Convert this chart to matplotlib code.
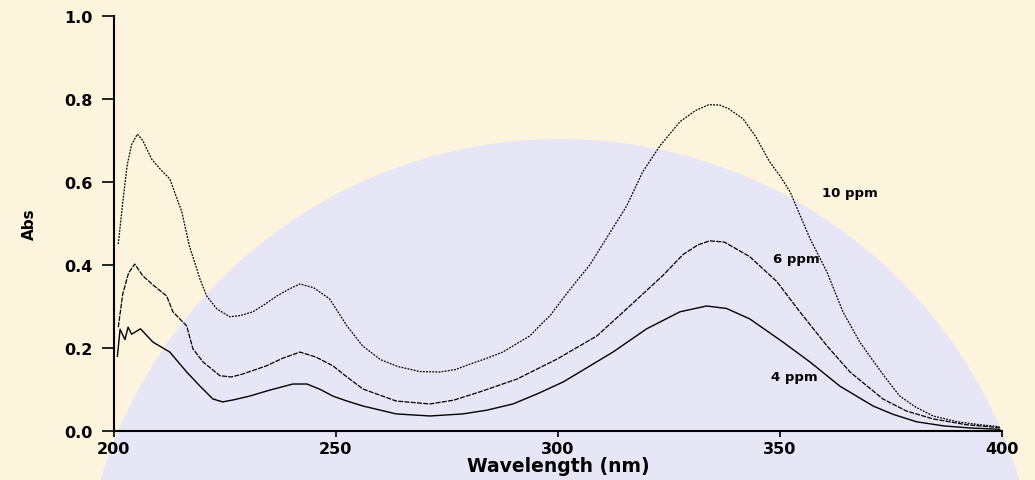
import numpy as np
import matplotlib.pyplot as plt
from matplotlib.patches import Circle

# 10 ppm spectrum
wl_10 = [201, 202, 203, 204, 205.3, 206.5, 208.5, 210.5, 212.6, 215.3, 217, 219.4, 220.9,
         223.2, 226.1, 228.5, 231.3, 234, 236.7, 239.5, 241.9, 245, 248.6, 252.5, 256, 260,
         264, 269, 273.4, 277, 280.2, 284, 287.6, 291, 293.7, 296.7, 298.2, 300.5, 303.4,
         307.2, 311, 315.5, 319.1, 323, 327.5, 331, 334, 336.5, 338.5, 341.7, 344.5, 347.7,
         350, 352.3, 356.8, 360.6, 364.2, 368, 371.8, 374.5, 377, 380.5, 384.5, 390, 395, 399.5]
abs_10 = [0.45, 0.55, 0.64, 0.69, 0.715, 0.70, 0.655, 0.63, 0.607, 0.528, 0.446, 0.366, 0.325,
          0.294, 0.275, 0.278, 0.287, 0.305, 0.325, 0.342, 0.354, 0.345, 0.318, 0.253, 0.205, 0.172,
          0.155, 0.143, 0.142, 0.148, 0.161, 0.175, 0.19, 0.212, 0.229, 0.262, 0.277, 0.31, 0.35,
          0.40, 0.465, 0.542, 0.624, 0.687, 0.745, 0.772, 0.786, 0.785, 0.776, 0.752, 0.71, 0.648,
          0.615, 0.576, 0.463, 0.383, 0.287, 0.214, 0.157, 0.118, 0.084, 0.058, 0.036, 0.022, 0.015, 0.01]

# 6 ppm spectrum
wl_6 = [201, 202, 203.3, 204.7, 206.5, 209, 211.9, 213.3, 216.4, 217.8, 220.1, 223.9, 226.5,
        229, 234.4, 238, 241.9, 245.5, 249.3, 252.5, 256.1, 263.6, 271.2, 276.5, 282.4, 290.8,
        299.8, 308.8, 316.2, 323.6, 328.2, 331.5, 334.2, 337.5, 343.2, 349.3, 354.5, 360.6,
        365.8, 373.2, 378.5, 384.5, 392, 399.5]
abs_6 = [0.25, 0.33, 0.38, 0.402, 0.374, 0.35, 0.325, 0.287, 0.253, 0.198, 0.166, 0.133, 0.13,
         0.137, 0.157, 0.175, 0.19, 0.178, 0.157, 0.13, 0.101, 0.072, 0.065, 0.074, 0.094, 0.125,
         0.173, 0.229, 0.301, 0.374, 0.425, 0.448, 0.458, 0.455, 0.42, 0.36, 0.287, 0.205,
         0.142, 0.077, 0.048, 0.029, 0.015, 0.008]

# 4 ppm spectrum
wl_4 = [200.8, 201.4, 202.5, 203.2, 204, 206, 208.8, 212.6, 216.4, 219.4, 222.3, 224.5, 227,
        230.6, 235, 240.3, 243.5, 246.5, 249.3, 252.5, 256.1, 263.6, 271.2, 278.6, 284, 289.9,
        295.5, 301.2, 306.5, 312.4, 320, 327.5, 333.5, 338, 343.2, 350.7, 356.8, 363.5, 371,
        375.5, 380.8, 387, 393, 399.5]
abs_4 = [0.18, 0.245, 0.22, 0.25, 0.233, 0.246, 0.214, 0.19, 0.142, 0.108, 0.077, 0.07, 0.075,
         0.084, 0.098, 0.113, 0.113, 0.1, 0.084, 0.072, 0.06, 0.041, 0.036, 0.041, 0.05, 0.065,
         0.09, 0.118, 0.152, 0.19, 0.246, 0.287, 0.301, 0.295, 0.27, 0.214, 0.166, 0.108, 0.06,
         0.04, 0.022, 0.012, 0.007, 0.004]

labels = ['10 ppm', '6 ppm', '4 ppm']
label_pos = [(359.5, 0.575), (348.5, 0.415), (348, 0.13)]

x_ticks = [200, 250, 300, 350, 400]
y_ticks = [0.0, 0.2, 0.4, 0.6, 0.8, 1.0]

fig = plt.figure(figsize=(10.35, 4.81), dpi=100)
fig.patch.set_facecolor('#fcf4dc')
# faint scanned watermark: big bluish disc behind everything
fig.patches.append(Circle((5.6, -1.39), 4.8, transform=fig.dpi_scale_trans,
                          facecolor='#e6e6f6', edgecolor='none', zorder=-10))
ax = fig.add_axes([0.110, 0.102, 0.858, 0.863])
ax.set_facecolor('none')
ax.set_zorder(5)

ax.plot(wl_10, abs_10, color='black', lw=0.9, ls=(0, (1.5, 1)))
ax.plot(wl_6, abs_6, color='black', lw=0.9, ls=(0, (4, 1)))
ax.plot(wl_4, abs_4, color='black', lw=1.0)

for txt, (x, y) in zip(labels, label_pos):
    ax.text(x, y, txt, fontsize=9.5, fontweight='bold', ha='left', va='center')

ax.set_xlim(200, 400)
ax.set_ylim(0, 1.0)
ax.set_xticks(x_ticks)
ax.set_yticks(y_ticks)
ax.set_yticklabels([f'{v:.1f}' for v in y_ticks])
for s in ['top', 'right']:
    ax.spines[s].set_visible(False)
ax.spines['left'].set_linewidth(1.5)
ax.spines['bottom'].set_linewidth(1.5)
ax.tick_params(axis='y', length=9, width=1.2, pad=6, labelsize=11.5)
ax.tick_params(axis='x', length=4, width=1.2, pad=3, labelsize=11.5)
for lab in ax.get_xticklabels() + ax.get_yticklabels():
    lab.set_fontweight('bold')

ax.set_xlabel('Wavelength (nm)', fontsize=13.5, fontweight='bold', labelpad=0)
ax.set_ylabel('Abs', fontsize=11, fontweight='bold', labelpad=20)

fig.savefig('out.png', dpi=100, facecolor=fig.get_facecolor())
